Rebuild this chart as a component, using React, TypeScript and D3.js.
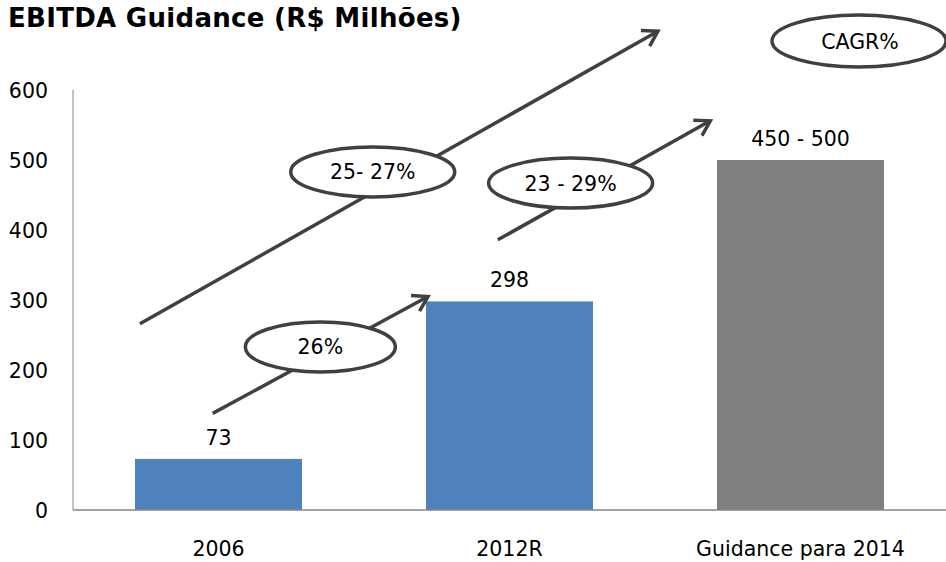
import React from "react";
import * as d3 from "d3";

const categories = ["2006", "2012R", "Guidance para 2014"];
const values = [73, 298, 500];
const valueLabels = ["73", "298", "450 - 500"];
const barColors = ["#4F81BD", "#4F81BD", "#7F7F7F"];
const yTicks = [0, 100, 200, 300, 400, 500, 600];

// annotation arrows: [category position, value]
const arrows = [
  { from: [-0.27, 266], to: [1.51, 684] }, // big 2006 -> 2014
  { from: [-0.02, 138], to: [0.72, 305] }, // 2006 -> 2012
  { from: [0.96, 386], to: [1.69, 556] }, // 2012 -> 2014
];
const bubbles = [
  { text: "25- 27%", at: [0.53, 483] },
  { text: "23 - 29%", at: [1.21, 467] },
  { text: "26%", at: [0.35, 233] },
];

const W = 946;
const H = 562;
const margin = { left: 73, right: 0, top: 90, bottom: 52 };
const FONT = "'DejaVu Sans', Verdana, sans-serif";
const FS = 20.5;

export default function App() {
  const x = d3
    .scaleBand<string>()
    .domain(categories)
    .range([margin.left, W - margin.right])
    .paddingInner(0.426)
    .paddingOuter(0.213);
  const y = d3.scaleLinear().domain([0, 600]).range([H - margin.bottom, margin.top]);
  const step = x.step();
  const cx = (i: number) => margin.left + step * (i + 0.5);
  const px = (p: number[]) => [cx(p[0]), y(p[1])];

  const arrowHead = (x1: number, y1: number, x2: number, y2: number) => {
    const ang = Math.atan2(y2 - y1, x2 - x1);
    const len = 17;
    const a1 = ang + Math.PI - 0.55;
    const a2 = ang + Math.PI + 0.55;
    return `M${x2 + len * Math.cos(a1)},${y2 + len * Math.sin(a1)}L${x2},${y2}L${x2 + len * Math.cos(a2)},${y2 + len * Math.sin(a2)}`;
  };

  return (
    <svg
      width={W}
      height={H}
      style={{ position: "absolute", left: 0, top: 0, background: "#fff" }}
      fontFamily={FONT}
    >
      <text x={8} y={27} fontSize={26} letterSpacing={0.3} fontWeight="bold" fill="#000">
        EBITDA Guidance (R$ Milhões)
      </text>

      {/* bars */}
      {categories.map((c, i) => (
        <rect
          key={c}
          x={x(c)}
          y={y(values[i])}
          width={x.bandwidth()}
          height={y(0) - y(values[i])}
          fill={barColors[i]}
        />
      ))}

      {/* axes */}
      <line x1={margin.left} x2={margin.left} y1={y(600)} y2={y(0)} stroke="#868686" strokeWidth={1} />
      <line x1={margin.left} x2={W} y1={y(0)} y2={y(0)} stroke="#868686" strokeWidth={1.5} />
      {yTicks.map((t) => (
        <text key={t} x={48} y={y(t) + 7.5} textAnchor="end" fontSize={FS} fill="#000">
          {t}
        </text>
      ))}
      {categories.map((c) => (
        <text key={c} x={(x(c) as number) + x.bandwidth() / 2} y={555.5} textAnchor="middle" fontSize={FS} fill="#000">
          {c}
        </text>
      ))}
      {categories.map((c, i) => (
        <text
          key={"l" + c}
          x={(x(c) as number) + x.bandwidth() / 2}
          y={y(values[i]) - 14}
          textAnchor="middle"
          fontSize={FS}
          fill="#000"
        >
          {valueLabels[i]}
        </text>
      ))}

      {/* arrows */}
      {arrows.map((a, i) => {
        const [x1, y1] = px(a.from);
        const [x2, y2] = px(a.to);
        return (
          <g key={"a" + i} stroke="#404040" strokeWidth={3.5} fill="none">
            <line x1={x1} y1={y1} x2={x2} y2={y2} />
            <path d={arrowHead(x1, y1, x2, y2)} strokeLinejoin="miter" />
          </g>
        );
      })}

      {/* bubbles */}
      {bubbles.map((b, i) => {
        const [bx, by] = px(b.at);
        const rx = i === 2 ? 75 : 82;
        return (
          <g key={"b" + i}>
            <ellipse cx={bx} cy={by} rx={rx} ry={25} fill="#fff" stroke="#404040" strokeWidth={3.5} />
            <text x={bx} y={by + 7.5} textAnchor="middle" fontSize={FS} fill="#000">
              {b.text}
            </text>
          </g>
        );
      })}

      {/* CAGR bubble */}
      <ellipse cx={859} cy={41} rx={87} ry={26} fill="#fff" stroke="#404040" strokeWidth={3.5} />
      <text x={860} y={49} textAnchor="middle" fontSize={FS} fill="#000">
        CAGR%
      </text>
    </svg>
  );
}
